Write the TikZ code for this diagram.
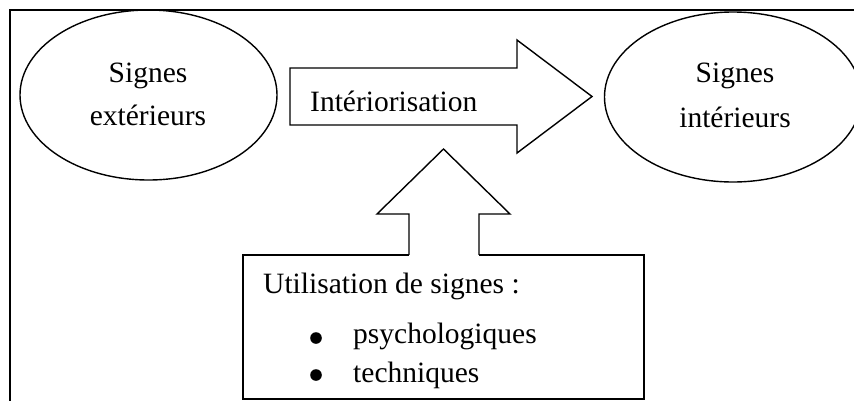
\documentclass[tikz,border=0pt]{standalone}
\usepackage{fontspec}
\setmainfont{Liberation Serif}
\usetikzlibrary{shapes.geometric}
\begin{document}
\begin{tikzpicture}[x=1pt,y=-1pt,
  ell/.style={draw, ellipse, line width=1.4pt, minimum width=257pt, minimum height=170pt, inner sep=0pt},
  lbl/.style={anchor=base, font=\fontsize{29.5}{35}\selectfont, inner sep=0pt},
  arrowshape/.style={draw, line width=1.4pt, line join=miter},
  framestyle/.style={draw, line width=1.9pt}]
\useasboundingbox (0,0) rectangle (854,400);
\begin{scope}
\clip (0,0) rectangle (854,400);
% outer frame
\draw[framestyle] (10,420) -- (10,10) -- (880,10);
% ellipses
\node[ell] (ext) at (148.5,95) {};
\node[ell] (int) at (733,97) {};
\node[lbl] (ext1) at (148,82) {Signes};
\node[lbl] (ext2) at (148,125) {extérieurs};
\node[lbl] (int1) at (735,82) {Signes};
\node[lbl] (int2) at (735,127) {intérieurs};
% big right arrow
\draw[arrowshape] (290,68) -- (517,68) -- (517,40) -- (592,96.5) -- (517,153) -- (517,125) -- (290,125) -- cycle;
\node[lbl, anchor=base west] (intz) at (310,111) {Intériorisation};
% bottom box with up arrow
\node[minimum width=401pt, minimum height=143.5pt, inner sep=0pt] (box) at (443.5,326.75) {};
\coordinate (shaftL) at (409,214);
\coordinate (shaftR) at (479,214);
\draw[framestyle] (shaftL |- box.north) -- (box.north west) -- (box.south west) -- (box.south east) -- (box.north east) -- (shaftR |- box.north);
\draw[arrowshape] (shaftL |- box.north) -- (shaftL) -- (377,214) -- (443.5,149) -- (510,214) -- (shaftR) -- (shaftR |- box.north);
\node[lbl, anchor=base west] (use) at (263,293) {Utilisation de signes~:};
\fill (316,338) circle (5.8);
\fill (316,375) circle (5.8);
\node[lbl, anchor=base west] (psy) at (353,343) {psychologiques};
\node[lbl, anchor=base west] (tech) at (353,382) {techniques};
\end{scope}
\end{tikzpicture}
\end{document}
